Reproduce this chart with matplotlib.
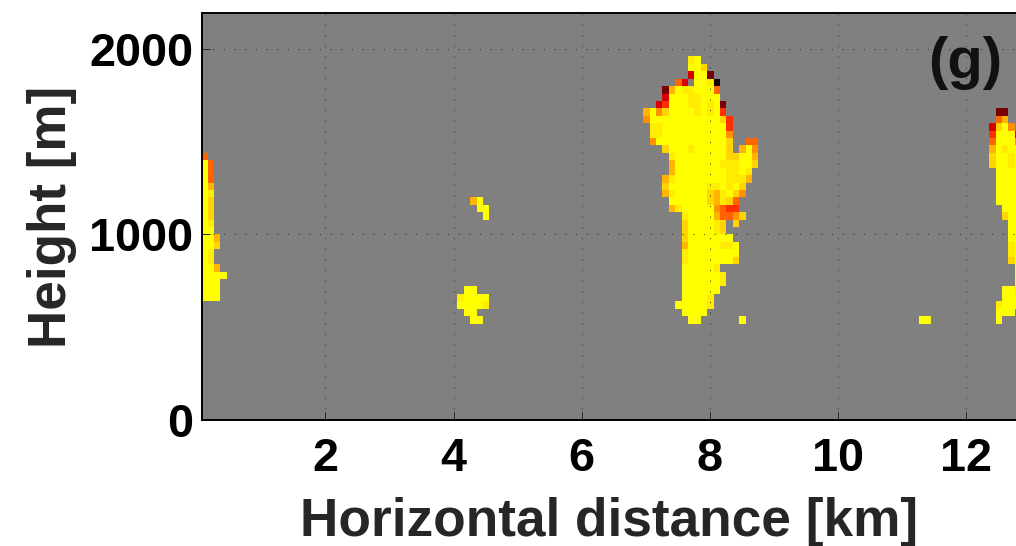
import numpy as np
import matplotlib
matplotlib.use("Agg")
import matplotlib.pyplot as plt
from matplotlib.colors import ListedColormap

plt.rcParams['font.family'] = ['Liberation Sans', 'DejaVu Sans']

# cell values, 0 = yellow ... 9 = black, '.' = no signal
# each block is read top row first
main_top = 1960
main_col = 69
main_rows = [
    ".......10.........",
    ".......002........",
    ".......7008.......",
    ".....57.0019......",
    "...830110005......",
    "...700011000......",
    "..76000110108.....",
    "3042000010106.....",
    "40000000000026....",
    ".1100000000006....",
    ".1100000000004....",
    ".4000000000002..55",
    "...20001000002.304",
    "....10000000022003",
    "....30000000111002",
    "....3000000001101.",
    "...31000000001113.",
    "...2000000110102..",
    "...3100000231024..",
    "....00000023125...",
    "....31000004566...",
    "......1000035542..",
    "......2000012.2...",
    "......2000012.....",
    "......20000000....",
    "......300000110...",
    "......100000000...",
    "......100000002...",
    "......000001......",
    "......0000001.....",
    "......0000001.....",
    "......000000......",
    "......00001.......",
    ".....000001.......",
    "......0000........",
    ".......00......0..",
]

left_top = 1440
left_col = 0
left_rows = [
    "5...", "05..", "05..", "05..", "03..", "01..", "02..", "02..", "02..", "01..",
    "00..", "003.", "002.", "01..", "01..", "003.", "0000", "000.", "000.", "000.",
]

right_top = 1680
right_col = 123
right_rows = [
    ".88..", ".53..", "7204.", "60007", "50004", "30100", "20010", "20010",
    ".0000", ".0000", ".0000", ".0000", ".0000", "..000", "..200", "...00",
    "...00", "...00", "...10", "...10", "...20", "....0", "....0", "....0",
    "..001", "..000", ".1000", ".000.", ".0...",
]

upper_top = 1200
upper_col = 42
upper_rows = ["30.", ".00", "..0"]

lower_top = 720
lower_col = 40
lower_rows = [".00..", "10000", "00001", ".00..", "..00."]

far_top = 560
far_col = 112
far_rows = ["00"]

level_colors = ['#ffff00', '#ffec00', '#ffd400', '#ffb400', '#ff9000',
                '#ff6400', '#ff3000', '#d80000', '#780000', '#140000']

x_ticks = [2, 4, 6, 8, 10, 12]
y_ticks = [0, 1000, 2000]

dx = 0.1
dz = 40
x_edges = 0.06 + dx * np.arange(129)
z_edges = dz * np.arange(56)
grid = np.full((55, 128), np.nan)


def put(rows, first_col, top):
    for r, row in enumerate(rows):
        k = top // dz - 1 - r
        for c, ch in enumerate(row):
            if ch != '.':
                grid[k, first_col + c] = int(ch)


put(main_rows, main_col, main_top)
put(left_rows, left_col, left_top)
put(right_rows, right_col, right_top)
put(upper_rows, upper_col, upper_top)
put(lower_rows, lower_col, lower_top)
put(far_rows, far_col, far_top)

fig = plt.figure(figsize=(10.16, 5.46), dpi=100)
ax = fig.add_axes([201.5 / 1016, 126 / 546, 814.5 / 1016, 407 / 546])
ax.set_facecolor('#808080')
ax.pcolormesh(x_edges, z_edges, np.ma.masked_invalid(grid), cmap=ListedColormap(level_colors),
              vmin=-0.5, vmax=9.5, antialiased=False, linewidth=0, zorder=1)

ax.set_xlim(0.065, 12.78)
ax.set_ylim(0, 2194)
ax.set_xticks(x_ticks)
ax.set_yticks(y_ticks)
ax.tick_params(direction='in', length=6, width=0.7, color='#222222', pad=12, labelsize=33.7)
ax.tick_params(axis='y', pad=6)
for lab in ax.get_xticklabels() + ax.get_yticklabels():
    lab.set_fontweight('bold')
ax.grid(True, color='#333333', linewidth=0.6, linestyle=(0, (1.5, 11.3)), zorder=3)
ax.set_axisbelow(False)

ax.spines['right'].set_visible(False)
for s in ['left', 'top', 'bottom']:
    ax.spines[s].set_linewidth(1.4)
    ax.spines[s].set_zorder(5)

ax.set_xlabel('Horizontal distance [km]', fontsize=38.3, fontweight='bold', color='#262626', labelpad=11.5)
ax.set_ylabel('Height [m]', fontsize=38.2, fontweight='bold', color='#262626', labelpad=9)
ax.text(11.98, 1925, '(g)', fontsize=41.8, fontweight='bold', color='#111111', ha='center', va='center', zorder=6)

fig.savefig('out.png', dpi=100)
